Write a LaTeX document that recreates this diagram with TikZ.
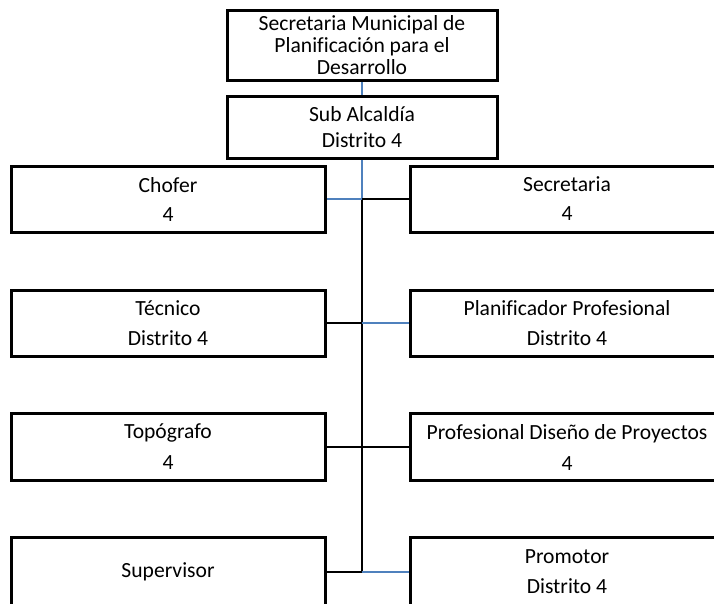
\documentclass[tikz,border=0pt]{standalone}
\usepackage{fontspec}
\setmainfont{Carlito}[Ligatures=CommonOff]
\definecolor{orgblue}{HTML}{4F81BD}
\pgfdeclarelayer{bg}
\pgfsetlayers{bg,main}
\begin{document}
\begin{tikzpicture}[x=1pt,y=-1pt,
  box/.style={draw=black, line width=3pt, minimum width=314pt, minimum height=66pt,
    inner sep=0pt, align=center, font=\fontsize{21.6pt}{22pt}\selectfont},
  topbox/.style={box, minimum width=270pt},
  blueline/.style={draw=orgblue, line width=2.4pt},
  blackline/.style={draw=black, line width=2pt}]
\clip (0,0) rectangle (714,603);
\useasboundingbox (0,0) rectangle (714,603);

\node[topbox, minimum height=70pt] (smp) at (362,45) {Secretaria Municipal de\\Planificación para el\\Desarrollo};
\node[topbox, minimum height=62pt] (sub) at (362,127) {Sub Alcaldía\\[4pt]Distrito 4};
\node[box] (chofer) at (168,199) {Chofer\\[7pt]4};
\node[box] (secr) at (567,199) {Secretaria\\[7pt]4};
\node[box] (tec) at (168,323) {Técnico\\[8pt]Distrito 4};
\node[box] (plan) at (567,323) {Planificador Profesional\\[8pt]Distrito 4};
\node[box, minimum height=67pt] (topo) at (168,447) {Topógrafo\\[9pt]4};
\node[box, minimum height=67pt] (prof) at (567,447) {Profesional Diseño de Proyectos\\[9pt]4};
\node[box, minimum height=70pt] (sup) at (168,572) {Supervisor};
\node[box, minimum height=70pt] (prom) at (567,572) {Promotor\\[8pt]Distrito 4};

\coordinate (j1) at (chofer.east -| sub.south);
\coordinate (j2) at (tec.east -| sub.south);
\coordinate (j4) at (sup.east -| sub.south);

\begin{pgfonlayer}{bg}
\draw[blueline] (smp.south) -- (sub.north);
\draw[blueline] (sub.south) -- (j4);
\draw[blackline] (j1) -- (j4);
\draw[blueline] (chofer.east) -- (j1);
\draw[blackline] (j1) -- (secr.west);
\draw[blackline] (tec.east) -- (j2);
\draw[blueline] (j2) -- (plan.west);
\draw[blackline] (topo.east) -- (prof.west);
\draw[blackline] (sup.east) -- (j4);
\draw[blueline] (j4) -- (prom.west);
\end{pgfonlayer}
\end{tikzpicture}
\end{document}
